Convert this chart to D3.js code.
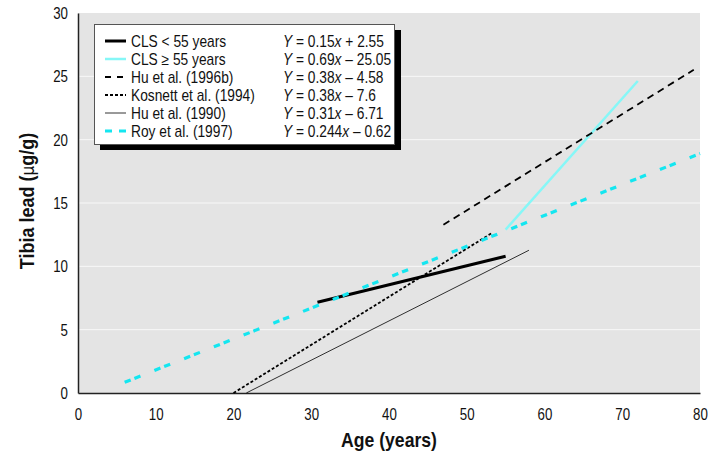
<!DOCTYPE html>
<html>
<head>
<meta charset="utf-8">
<script src="https://cdn.jsdelivr.net/npm/d3@7"></script>
<style>
  body { margin: 0; background: #fff; }
  text { font-family: "Liberation Sans", Arial, sans-serif; }
</style>
</head>
<body>
<div class="grafico"></div>
<script>
// datos de las rectas (pendiente, intercepto, rango de edad)
const series = ["CLS < 55 years", "CLS \u2265 55 years", "Hu et al. (1996b)", "Kosnett et al. (1994)", "Hu et al. (1990)", "Roy et al. (1997)"];
const slopes = [0.15, 0.69, 0.38, 0.38, 0.31, 0.244];
const intercepts = [2.55, -25.05, -4.58, -7.6, -6.71, -0.62];
const ageFrom = [30.8, 55, 47, 20, 21.65, 6];
const ageTo = [55, 72, 79.2, 53.2, 58, 80];
const slopeText = ["0.15", "0.69", "0.38", "0.38", "0.31", "0.244"];
const interText = ["+ 2.55", "\u2013 25.05", "\u2013 4.58", "\u2013 7.6", "\u2013 6.71", "\u2013 0.62"];
const xTicks = [0, 10, 20, 30, 40, 50, 60, 70, 80];
const yTicks = [0, 5, 10, 15, 20, 25, 30];

// estilos
const estilos = [
  { color: "#000", width: 3, dash: null, dashLey: null },
  { color: "#86f7f7", width: 2.5, dash: null, dashLey: null },
  { color: "#000", width: 1.8, dash: "7,5", dashLey: "6,6" },
  { color: "#000", width: 1.8, dash: "3,2", dashLey: "3,2" },
  { color: "#000", width: 0.8, dash: null, dashLey: null },
  { color: "#14e6f0", width: 3.2, dash: "6.5,4,6.5,15", dashLey: "7,7" }
];

const K = 0.83; // factor de condensado del texto

var width = 716, height = 459;
var margin = { top: 13, right: 16, bottom: 66, left: 78 };

var xScale = d3.scaleLinear().domain([0, 80]).range([margin.left, width - margin.right]);
var yScale = d3.scaleLinear().domain([0, 30]).range([height - margin.bottom, margin.top]);

var svg = d3.select(".grafico")
  .append("svg")
  .attr("width", width)
  .attr("height", height);

// texto angosto: traslada y escala en x
function texto(sel, x, y, k) {
  return sel.append("text")
    .attr("transform", "translate(" + x + "," + y + ") scale(" + k + ",1)");
}

// fondo gris
svg.append("rect")
  .attr("x", xScale(0))
  .attr("y", yScale(30))
  .attr("width", xScale(80) - xScale(0))
  .attr("height", yScale(0) - yScale(30))
  .attr("fill", "#e4e4e4");

// lineas de grilla blancas
svg.selectAll(".grid")
  .data(yTicks.filter(d => d > 0 && d < 30))
  .enter().append("line")
  .attr("x1", xScale(0))
  .attr("x2", xScale(80))
  .attr("y1", d => yScale(d))
  .attr("y2", d => yScale(d))
  .attr("stroke", "#f8f8f8")
  .attr("stroke-width", 1);

// ejes
var ejeX = svg.append("g")
  .attr("transform", "translate(0," + yScale(0) + ")")
  .call(d3.axisBottom(xScale).tickValues(xTicks).tickSize(0));
var ejeY = svg.append("g")
  .attr("transform", "translate(" + xScale(0) + ",0)")
  .call(d3.axisLeft(yScale).tickValues(yTicks).tickSize(0));

[ejeX, ejeY].forEach(function(g) {
  g.select(".domain").attr("stroke", "#222").attr("stroke-width", 1.5);
  g.selectAll("text")
    .attr("font-size", 16)
    .attr("fill", "#111")
    .style("font-family", '"Liberation Sans", Arial, sans-serif');
});
ejeX.selectAll("text")
  .attr("y", 0).attr("dy", "0.35em")
  .attr("transform", "translate(0,21) scale(" + K + ",1)");
ejeY.selectAll("text")
  .attr("x", 0).attr("dy", "0.35em")
  .attr("transform", "translate(-10,0) scale(" + K + ",1)");

// rectas
var line = d3.line()
  .x(function(d) { return xScale(d.x); })
  .y(function(d) { return yScale(d.y); });

series.forEach(function(nombre, i) {
  var datos = [ageFrom[i], ageTo[i]].map(function(x) {
    return { x: x, y: slopes[i] * x + intercepts[i] };
  });
  svg.append("path")
    .datum(datos)
    .attr("fill", "none")
    .attr("stroke", estilos[i].color)
    .attr("stroke-width", estilos[i].width)
    .attr("stroke-dasharray", estilos[i].dash)
    .attr("d", line);
});

// leyenda
var leyenda = svg.append("g");
leyenda.append("rect")
  .attr("x", 100).attr("y", 30).attr("width", 301).attr("height", 120)
  .attr("fill", "#000");
leyenda.append("rect")
  .attr("x", 94.5).attr("y", 24.5).attr("width", 300).attr("height", 120)
  .attr("fill", "#fff").attr("stroke", "#555").attr("stroke-width", 1);

series.forEach(function(nombre, i) {
  var y = 41 + i * 18;
  leyenda.append("line")
    .attr("x1", 105).attr("x2", 126)
    .attr("y1", y).attr("y2", y)
    .attr("stroke", estilos[i].color)
    .attr("stroke-width", estilos[i].width)
    .attr("stroke-dasharray", estilos[i].dashLey);
  texto(leyenda, 131, y, 0.86)
    .attr("dy", "0.36em")
    .attr("font-size", 16).attr("fill", "#111")
    .text(nombre);
  var eq = texto(leyenda, 283, y, 0.86)
    .attr("dy", "0.36em")
    .attr("font-size", 16).attr("fill", "#111");
  eq.append("tspan").attr("font-style", "italic").text("Y");
  eq.append("tspan").text(" = " + slopeText[i]);
  eq.append("tspan").attr("font-style", "italic").text("x");
  eq.append("tspan").text(" " + interText[i]);
});

// titulos de ejes
texto(svg, xScale(40), 447, 0.88)
  .attr("text-anchor", "middle")
  .attr("font-size", 20).attr("font-weight", "bold").attr("fill", "#111")
  .text("Age (years)");

var tituloY = svg.append("text")
  .attr("transform", "translate(34,201) rotate(-90) scale(0.9,1)")
  .attr("text-anchor", "middle")
  .attr("font-size", 20).attr("font-weight", "bold").attr("fill", "#111");
tituloY.append("tspan").text("Tibia lead (");
tituloY.append("tspan").attr("font-weight", "normal").attr("font-family", "DejaVu Sans").attr("font-size", 17).text("\u03bc");
tituloY.append("tspan").text("g/g)");
</script>
</body>
</html>
